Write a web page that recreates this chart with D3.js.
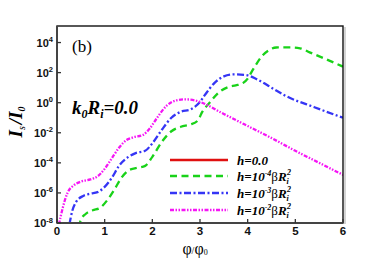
<!DOCTYPE html>
<html>
<head>
<meta charset="utf-8">
<script src="https://cdn.jsdelivr.net/npm/d3@7"></script>
<style>
  body { margin: 0; background: #fff; }
  svg { display: block; }
  .tick-label { font-family: 'Liberation Sans', Arial, sans-serif; font-weight: bold; fill: #111; }
  .serif { font-family: 'Liberation Serif', 'Times New Roman', serif; fill: #000; }
</style>
</head>
<body>
<div id="app"></div>
<script>
// values: phi/phi0 and log10(Is/I0)
const greenPhi = [0.45, 0.5, 0.6, 0.75, 0.9, 1.05, 1.2, 1.35, 1.5, 1.65, 1.85, 2.0, 2.2, 2.4, 2.6, 2.8, 2.95, 3.05, 3.2, 3.4, 3.6, 3.75, 3.9, 4.0, 4.05, 4.15, 4.3, 4.45, 4.6, 4.9, 5.1, 5.3, 5.6, 6.0];
const greenLog = [-8.3, -7.8, -7.4, -7.15, -7.0, -6.5, -5.8, -5.0, -4.5, -4.35, -4.2, -3.6, -2.6, -1.9, -1.6, -1.45, -1.2, -0.6, 0.0, 0.7, 1.05, 1.15, 1.3, 1.6, 1.87, 2.4, 3.1, 3.5, 3.67, 3.68, 3.62, 3.35, 2.95, 2.4];

const bluePhi = [0.26, 0.32, 0.4, 0.55, 0.7, 0.85, 1.0, 1.15, 1.3, 1.5, 1.65, 1.85, 2.0, 2.2, 2.4, 2.6, 2.8, 3.0, 3.1, 3.3, 3.5, 3.7, 3.95, 4.2, 4.5, 4.8, 5.4, 6.0];
const blueLog = [-8.1, -7.2, -6.6, -6.2, -6.05, -5.95, -5.6, -5.0, -4.2, -3.6, -3.35, -3.2, -2.7, -1.8, -1.0, -0.6, -0.45, 0.05, 0.5, 1.3, 1.75, 1.88, 1.85, 1.55, 1.0, 0.45, -0.3, -1.0];

const magentaPhi = [0.04, 0.12, 0.22, 0.35, 0.5, 0.7, 0.85, 1.0, 1.15, 1.3, 1.45, 1.6, 1.8, 1.95, 2.1, 2.3, 2.5, 2.7, 2.9, 3.0, 3.5, 4.0, 4.5, 5.0, 5.5, 6.0];
const magentaLog = [-8.1, -7.0, -6.0, -5.5, -5.25, -5.1, -4.9, -4.4, -3.7, -3.0, -2.5, -2.3, -2.15, -1.7, -1.0, -0.2, 0.15, 0.22, 0.15, 0.05, -0.75, -1.55, -2.35, -3.2, -4.0, -4.8];

// h = 0.0 stays below the plotted range, only its legend entry shows
const redPhi = [];
const redLog = [];

const xTicks = [0, 1, 2, 3, 4, 5, 6];
const yTickExps = [-8, -6, -4, -2, 0, 2, 4];

const seriesList = [
  { key: 'red', phi: redPhi, logs: redLog, color: '#e01010', dash: null, sup: null },
  { key: 'green', phi: greenPhi, logs: greenLog, color: '#19d219', dash: '7,4.5', sup: '-4' },
  { key: 'blue', phi: bluePhi, logs: blueLog, color: '#3535f5', dash: '7,2.5,2,2.5', sup: '-3' },
  { key: 'magenta', phi: magentaPhi, logs: magentaLog, color: '#f516f5', dash: '4,1.5,1.5,1.5,1.5,1.5', sup: '-2' }
];

const width = 382, height = 258;
const plot = { left: 57, right: 343, top: 26, bottom: 223 };

const svg = d3.select('#app').append('svg')
  .attr('width', width)
  .attr('height', height);

const x = d3.scaleLinear().domain([0, 6]).range([plot.left, plot.right]);
const y = d3.scaleLog().domain([1e-8, Math.pow(10, 5.1)]).range([plot.bottom, plot.top]);

svg.append('defs').append('clipPath').attr('id', 'clip')
  .append('rect')
  .attr('x', plot.left).attr('y', plot.top)
  .attr('width', plot.right - plot.left).attr('height', plot.bottom - plot.top);

// shadow on the right of the frame
svg.append('line')
  .attr('x1', plot.right + 2).attr('x2', plot.right + 2)
  .attr('y1', plot.top + 1).attr('y2', plot.bottom + 1)
  .attr('stroke', '#d4d4d4').attr('stroke-width', 2);

const line = d3.line()
  .x(d => x(d[0]))
  .y(d => y(Math.pow(10, d[1])))
  .curve(d3.curveMonotoneX);

const curves = svg.append('g').attr('clip-path', 'url(#clip)');
seriesList.forEach(s => {
  if (!s.phi.length) return;
  curves.append('path')
    .datum(d3.zip(s.phi, s.logs))
    .attr('d', line)
    .attr('fill', 'none')
    .attr('stroke', s.color)
    .attr('stroke-width', 2.3)
    .attr('stroke-dasharray', s.dash);
});

// frame
svg.append('rect')
  .attr('x', plot.left).attr('y', plot.top)
  .attr('width', plot.right - plot.left).attr('height', plot.bottom - plot.top)
  .attr('fill', 'none').attr('stroke', '#111').attr('stroke-width', 1.4);
svg.append('line')
  .attr('x1', plot.left).attr('x2', plot.left)
  .attr('y1', plot.top).attr('y2', plot.bottom)
  .attr('stroke', '#444').attr('stroke-width', 2);
svg.append('line')
  .attr('x1', plot.left).attr('x2', plot.right)
  .attr('y1', plot.bottom).attr('y2', plot.bottom)
  .attr('stroke', '#444').attr('stroke-width', 2);

// x ticks
const xAxis = svg.append('g');
xTicks.forEach(t => {
  xAxis.append('line')
    .attr('x1', x(t)).attr('x2', x(t))
    .attr('y1', plot.bottom).attr('y2', plot.bottom - 4)
    .attr('stroke', '#333').attr('stroke-width', 1.3);
  xAxis.append('text')
    .attr('class', 'tick-label')
    .attr('x', x(t)).attr('y', 235)
    .attr('text-anchor', 'middle')
    .attr('font-size', 11.5)
    .text(t);
});

// y ticks
const yAxis = svg.append('g');
yTickExps.forEach(e => {
  const yy = y(Math.pow(10, e));
  yAxis.append('line')
    .attr('x1', plot.left).attr('x2', plot.left + 4)
    .attr('y1', yy).attr('y2', yy)
    .attr('stroke', '#333').attr('stroke-width', 1.3);
  const t = yAxis.append('text')
    .attr('class', 'tick-label')
    .attr('x', 53).attr('y', yy + 4)
    .attr('text-anchor', 'end')
    .attr('font-size', 11);
  t.append('tspan').text('10');
  t.append('tspan').attr('dy', -4.5).attr('font-size', 7.5).text(e);
});

// axis titles
const yTitle = svg.append('text')
  .attr('class', 'serif')
  .attr('transform', 'translate(22,122) rotate(-90)')
  .attr('text-anchor', 'middle')
  .attr('font-size', 19)
  .attr('font-weight', 'bold')
  .attr('font-style', 'italic');
yTitle.append('tspan').text('I');
yTitle.append('tspan').attr('dy', 3).attr('font-size', 10).attr('font-weight', 'normal').text('s');
yTitle.append('tspan').attr('dy', -3).attr('dx', 2).text('/I');
yTitle.append('tspan').attr('dy', 3).attr('font-size', 10).text('0');

const xTitle = svg.append('text')
  .attr('class', 'serif')
  .attr('x', 195).attr('y', 254)
  .attr('text-anchor', 'middle')
  .attr('font-size', 16);
xTitle.append('tspan').text('φ');
xTitle.append('tspan').attr('font-size', 10).text('/');
xTitle.append('tspan').text('φ');
xTitle.append('tspan').attr('font-size', 8).attr('dy', 1).text('0');

// panel tag and parameter
svg.append('text')
  .attr('class', 'serif')
  .attr('x', 72).attr('y', 52)
  .attr('font-size', 17)
  .text('(b)');

const kText = svg.append('text')
  .attr('class', 'serif')
  .attr('x', 72).attr('y', 114)
  .attr('font-size', 19)
  .attr('font-weight', 'bold')
  .attr('font-style', 'italic');
kText.append('tspan').text('k');
kText.append('tspan').attr('dy', 4).attr('font-size', 12).text('0');
kText.append('tspan').attr('dy', -4).text('R');
kText.append('tspan').attr('dy', 4).attr('font-size', 12).text('i');
kText.append('tspan').attr('dy', -4).text('=0.0');

// legend
const legend = svg.append('g');
const legendY = [160, 176, 193, 210];
seriesList.forEach((s, i) => {
  const ly = legendY[i];
  legend.append('line')
    .attr('x1', 170).attr('x2', 228)
    .attr('y1', ly).attr('y2', ly)
    .attr('stroke', s.color)
    .attr('stroke-width', 2.3)
    .attr('stroke-dasharray', s.dash);
  const lab = legend.append('text')
    .attr('class', 'serif')
    .attr('x', 237).attr('y', ly + 4.5)
    .attr('font-size', 13)
    .attr('font-weight', 'bold')
    .attr('font-style', 'italic');
  if (!s.sup) {
    lab.text('h=0.0');
    return;
  }
  lab.append('tspan').text('h=10');
  lab.append('tspan').attr('dy', -5).attr('font-size', 8).text(s.sup);
  lab.append('tspan').attr('dy', 5).attr('font-style', 'normal').attr('font-weight', 'normal').text('β');
  lab.append('tspan').text('R');
  const len = lab.node().getComputedTextLength();
  legend.append('text')
    .attr('class', 'serif')
    .attr('x', 237 + len + 0.5).attr('y', ly - 1)
    .attr('font-size', 8).attr('font-weight', 'bold').attr('font-style', 'italic')
    .text('2');
  legend.append('text')
    .attr('class', 'serif')
    .attr('x', 237 + len).attr('y', ly + 8)
    .attr('font-size', 8).attr('font-weight', 'bold').attr('font-style', 'italic')
    .text('i');
});
</script>
</body>
</html>
